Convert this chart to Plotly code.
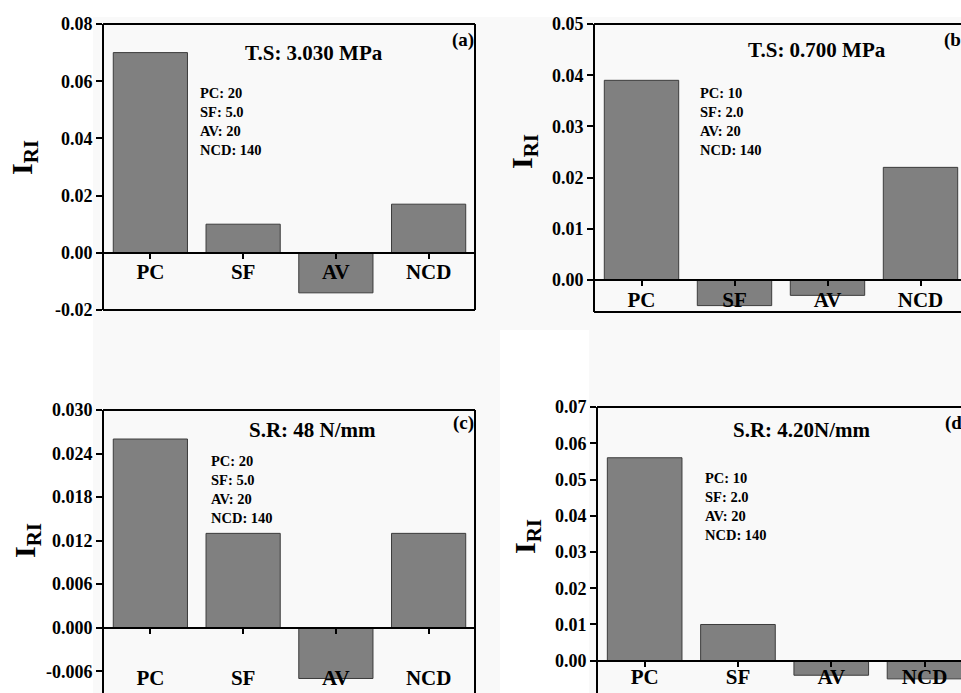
import plotly.graph_objects as go

W, H = 961, 693

# ---------------- data ----------------
categories = ["PC", "SF", "AV", "NCD"]
values_a = [0.070, 0.010, -0.014, 0.017]
values_b = [0.039, -0.005, -0.003, 0.022]
values_c = [0.026, 0.013, -0.007, 0.013]
values_d = [0.056, 0.010, -0.004, -0.005]

titles = ["T.S: 3.030 MPa", "T.S: 0.700 MPa", "S.R: 48 N/mm", "S.R: 4.20N/mm"]
panel_labels = ["(a)", "(b)", "(c)", "(d)"]
params_a = ["PC: 20", "SF: 5.0", "AV: 20", "NCD: 140"]
params_b = ["PC: 10", "SF: 2.0", "AV: 20", "NCD: 140"]
params_c = ["PC: 20", "SF: 5.0", "AV: 20", "NCD: 140"]
params_d = ["PC: 10", "SF: 2.0", "AV: 20", "NCD: 140"]

yticks_a = [-0.02, 0.00, 0.02, 0.04, 0.06, 0.08]
yticktext_a = ["-0.02", "0.00", "0.02", "0.04", "0.06", "0.08"]
yticks_b = [0.00, 0.01, 0.02, 0.03, 0.04, 0.05]
yticktext_b = ["0.00", "0.01", "0.02", "0.03", "0.04", "0.05"]
yticks_c = [-0.006, 0.000, 0.006, 0.012, 0.018, 0.024, 0.030]
yticktext_c = ["-0.006", "0.000", "0.006", "0.012", "0.018", "0.024", "0.030"]
yticks_d = [0.00, 0.01, 0.02, 0.03, 0.04, 0.05, 0.06, 0.07]
yticktext_d = ["0.00", "0.01", "0.02", "0.03", "0.04", "0.05", "0.06", "0.07"]

y_title = "I<sub>RI</sub>"

# ---------------- geometry (pixels) ----------------
FONT = "Liberation Serif"
BG = "#f9f9f9"


def px(x):
    return x / W


def py(y):
    return 1 - y / H


panels = [
    dict(vals=values_a, params=params_a, yt=yticks_a, ytt=yticktext_a,
         left=104, right=475, top=24, bottom=310, yr=[-0.02, 0.08],
         xr=[-0.5, 3.5], title_xy=(314, 53), lab_xy=(450, 40),
         par_xy=(198, 121.5), ytitle_xy=(24, 158), standoff=-5,
         frame=["top", "right", "bottom"]),
    dict(vals=values_b, params=params_b, yt=yticks_b, ytt=yticktext_b,
         left=595, right=961, top=24, bottom=312, yr=[-0.00625, 0.05],
         xr=[-0.5, -0.5 + 366 / 93.0], title_xy=(817, 50), lab_xy=(942, 40),
         par_xy=(698, 121.5), ytitle_xy=(524, 152), standoff=-4,
         frame=["top", "bottom"]),
    dict(vals=values_c, params=params_c, yt=yticks_c, ytt=yticktext_c,
         left=104, right=475, top=410, bottom=693, yr=[-0.009, 0.030],
         xr=[-0.5, 3.5], title_xy=(312, 430), lab_xy=(451, 423),
         par_xy=(209, 489.5), ytitle_xy=(27, 541), standoff=26,
         frame=["top", "right"]),
    dict(vals=values_d, params=params_d, yt=yticks_d, ytt=yticktext_d,
         left=598, right=961, top=407, bottom=693, yr=[-0.0089, 0.07],
         xr=[-0.5, -0.5 + 363 / 93.3], title_xy=(802, 430), lab_xy=(943, 423),
         par_xy=(703, 506.5), ytitle_xy=(527, 537), standoff=-8,
         frame=["top"]),
]

fig = go.Figure()
layout = dict(
    width=W, height=H,
    margin=dict(l=0, r=0, t=0, b=0, pad=0),
    paper_bgcolor="white",
    plot_bgcolor=BG,
    showlegend=False,
    font=dict(family=FONT, color="black"),
)
shapes = []
annotations = []

# light grey page areas behind the panels
for (x0, y0, x1, y1) in [(93, 17, 500, 693), (500, 17, 961, 330), (589, 330, 961, 693)]:
    shapes.append(dict(type="rect", xref="paper", yref="paper", layer="below",
                       x0=px(x0), x1=px(x1), y0=py(y1), y1=py(y0),
                       fillcolor=BG, line=dict(width=0)))

for i, p in enumerate(panels, start=1):
    xa = "x" if i == 1 else f"x{i}"
    ya = "y" if i == 1 else f"y{i}"
    xkey = "xaxis" if i == 1 else f"xaxis{i}"
    ykey = "yaxis" if i == 1 else f"yaxis{i}"

    fig.add_trace(go.Bar(
        x=list(range(len(categories))), y=p["vals"], xaxis=xa, yaxis=ya,
        width=0.8, marker=dict(color="#808080", line=dict(color="#3c3c3c", width=1)),
        hoverinfo="x+y",
    ))

    yd = [py(p["bottom"]), py(p["top"])]
    r0, r1 = p["yr"]
    zero_pos = yd[0] + (0 - r0) / (r1 - r0) * (yd[1] - yd[0])

    layout[xkey] = dict(
        domain=[px(p["left"]), min(1.0, px(p["right"]))],
        range=p["xr"], anchor="free", position=zero_pos,
        tickmode="array", tickvals=list(range(len(categories))), ticktext=categories,
        ticks="outside", ticklen=5, tickwidth=2, tickcolor="black",
        showline=True, linewidth=2, linecolor="black",
        showgrid=False, zeroline=False, fixedrange=True, automargin=False,
        tickfont=dict(family=FONT, size=21, color="black", weight="bold"),
        ticklabelstandoff=p["standoff"],
    )
    layout[ykey] = dict(
        domain=yd, range=p["yr"], anchor=xa,
        tickmode="array", tickvals=p["yt"], ticktext=p["ytt"],
        ticks="outside", ticklen=6, tickwidth=2, tickcolor="black",
        showline=True, linewidth=2, linecolor="black",
        showgrid=False, zeroline=False, fixedrange=True, automargin=False,
        tickfont=dict(family=FONT, size=18, color="black", weight="bold"),
    )

    # frame lines
    L, R, T, B = px(p["left"]), px(p["right"]), py(p["top"]), py(p["bottom"])
    line = dict(color="black", width=2)
    for side in p["frame"]:
        if side == "top":
            shapes.append(dict(type="line", xref="paper", yref="paper", x0=L - 0.001, x1=R, y0=T, y1=T, line=line))
        elif side == "bottom":
            shapes.append(dict(type="line", xref="paper", yref="paper", x0=L - 0.001, x1=R, y0=B, y1=B, line=line))
        elif side == "right":
            shapes.append(dict(type="line", xref="paper", yref="paper", x0=R, x1=R, y0=B, y1=T, line=line))

    # texts
    tx, ty = p["title_xy"]
    annotations.append(dict(text=titles[i - 1], x=px(tx), y=py(ty), xref="paper", yref="paper",
                            xanchor="center", yanchor="middle", showarrow=False,
                            font=dict(family=FONT, size=21, color="black", weight="bold")))
    lx, ly = p["lab_xy"]
    annotations.append(dict(text=panel_labels[i - 1], x=px(lx), y=py(ly), xref="paper", yref="paper",
                            xanchor="left", yanchor="middle", showarrow=False,
                            font=dict(family=FONT, size=19, color="black", weight="bold")))
    qx, qy = p["par_xy"]
    annotations.append(dict(text="<br>".join(p["params"]), x=px(qx), y=py(qy), xref="paper", yref="paper",
                            xanchor="left", yanchor="middle", align="left", showarrow=False,
                            font=dict(family=FONT, size=14.5, color="black", weight="bold")))
    ax, ay = p["ytitle_xy"]
    annotations.append(dict(text=y_title, x=px(ax), y=py(ay), xref="paper", yref="paper",
                            xanchor="center", yanchor="middle", textangle=-90, showarrow=False,
                            font=dict(family=FONT, size=30, color="black", weight="bold")))

layout["shapes"] = shapes
layout["annotations"] = annotations
fig.update_layout(**layout)
fig.write_html(
    "out.html",
    config={"displayModeBar": False},
    post_script="document.body.style.margin='0';document.body.style.overflow='hidden';",
)
